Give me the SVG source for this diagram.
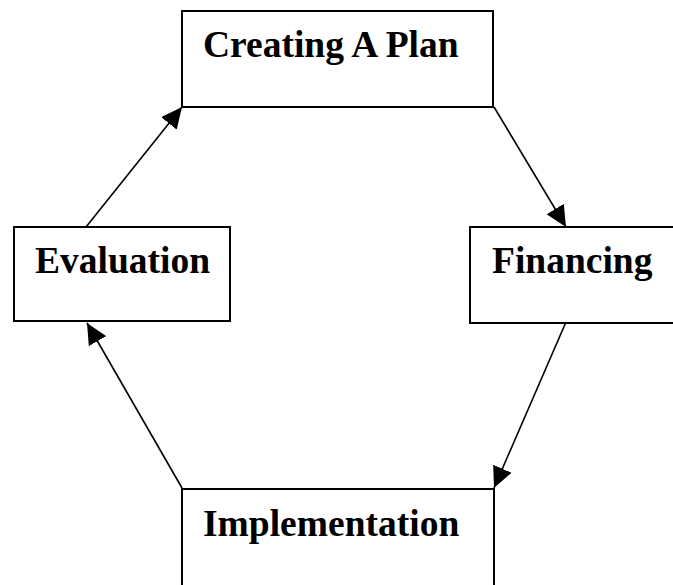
<svg xmlns="http://www.w3.org/2000/svg" width="673" height="585" viewBox="0 0 673 585">
  <style>
    .box { fill: #ffffff; stroke: #000000; stroke-width: 2; }
    .label { font-family: "Liberation Serif", "Times New Roman", serif; font-weight: bold; font-size: 37.5px; fill: #000000; }
    .link { stroke: #000000; stroke-width: 1.6; fill: none; marker-end: url(#arrow); }
  </style>
  <defs>
    <marker id="arrow" viewBox="0 0 21 20" refX="21" refY="10" markerWidth="21" markerHeight="20" markerUnits="userSpaceOnUse" orient="auto">
      <path d="M0,0 L21,10 L0,20 Z" fill="#000000"/>
    </marker>
  </defs>
  <rect width="673" height="585" fill="#ffffff"/>

  <g id="creating-plan">
    <rect class="box" x="182" y="11" width="311" height="96"/>
    <text class="label" x="203" y="57">Creating A Plan</text>
  </g>

  <g id="financing">
    <rect class="box" x="470" y="227" width="215" height="96"/>
    <text class="label" x="492" y="273">Financing</text>
  </g>

  <g id="implementation">
    <rect class="box" x="182" y="489" width="312" height="110"/>
    <text class="label" x="203" y="536">Implementation</text>
  </g>

  <g id="evaluation">
    <rect class="box" x="14" y="227" width="216" height="94"/>
    <text class="label" x="35" y="273">Evaluation</text>
  </g>

  <g id="connectors">
    <line class="link" x1="86" y1="227" x2="182" y2="107"/>
    <line class="link" x1="494" y1="107" x2="566" y2="227"/>
    <line class="link" x1="566" y1="322" x2="494" y2="488"/>
    <line class="link" x1="182" y1="488" x2="87" y2="323"/>
  </g>
</svg>
